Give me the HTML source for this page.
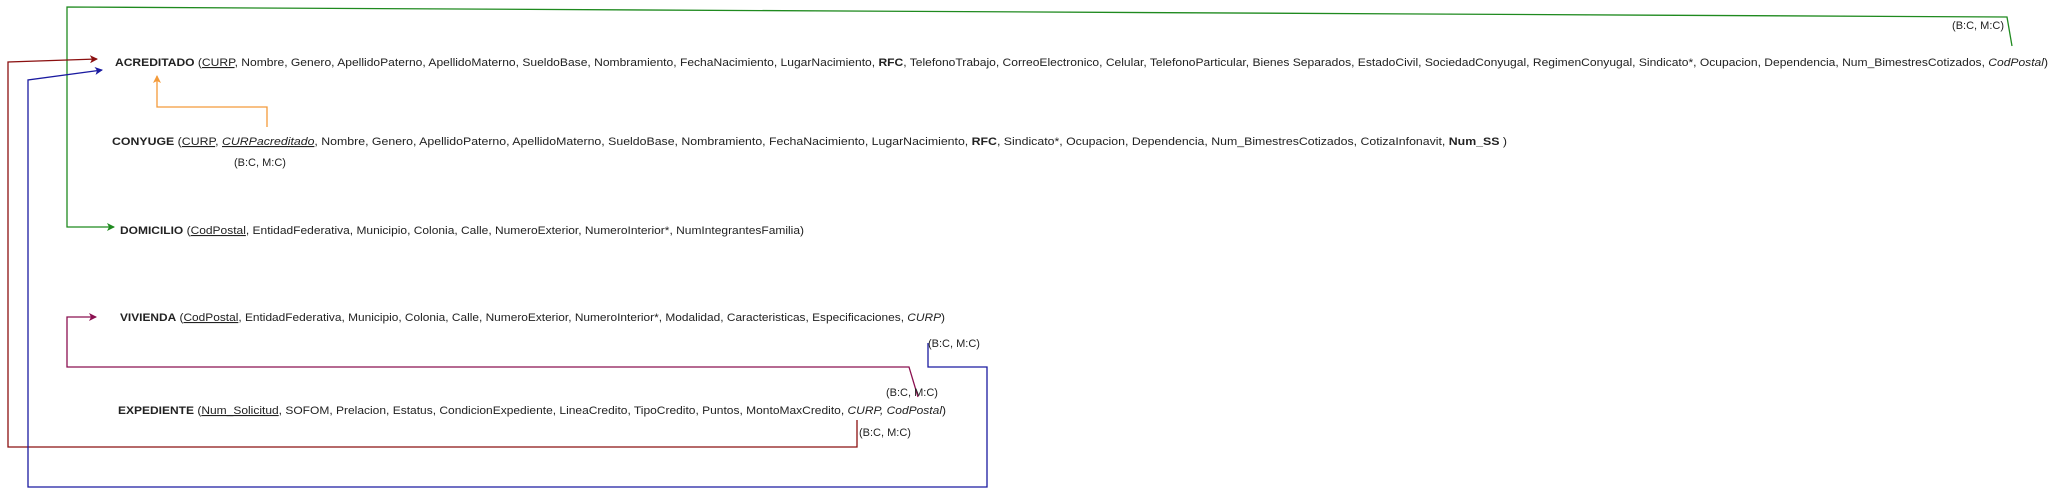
<!DOCTYPE html>
<html><head><meta charset="utf-8"><style>
html,body{margin:0;padding:0;background:#fff;}
svg{display:block;}
text{font-family:"Liberation Sans",Arial,sans-serif;font-size:11px;fill:#222;}
</style></head><body>
<svg width="2054" height="497" viewBox="0 0 2054 497" xmlns="http://www.w3.org/2000/svg">
<defs>
<marker id="ag" markerWidth="8" markerHeight="8" refX="7" refY="4" orient="auto" markerUnits="userSpaceOnUse"><path d="M0,0 L8,4 L0,8 L2,4 z" fill="#1f8a1f"/></marker>
<marker id="ar" markerWidth="8" markerHeight="8" refX="7" refY="4" orient="auto" markerUnits="userSpaceOnUse"><path d="M0,0 L8,4 L0,8 L2,4 z" fill="#8b1010"/></marker>
<marker id="ab" markerWidth="8" markerHeight="8" refX="7" refY="4" orient="auto" markerUnits="userSpaceOnUse"><path d="M0,0 L8,4 L0,8 L2,4 z" fill="#1a1aa0"/></marker>
<marker id="ao" markerWidth="8" markerHeight="8" refX="7" refY="4" orient="auto" markerUnits="userSpaceOnUse"><path d="M0,0 L8,4 L0,8 L2,4 z" fill="#f39a3a"/></marker>
<marker id="ap" markerWidth="8" markerHeight="8" refX="7" refY="4" orient="auto" markerUnits="userSpaceOnUse"><path d="M0,0 L8,4 L0,8 L2,4 z" fill="#8b1050"/></marker>
</defs>
<g fill="none" stroke-width="1.3">
<polyline points="2012,46 2007,17 67,7 67,227 114,227" stroke="#1f8a1f" marker-end="url(#ag)"/>
<polyline points="857,420 857,447 8,447 8,62 97,59" stroke="#8b1010" marker-end="url(#ar)"/>
<polyline points="928,343 928,367 987,367 987,487 28,487 28,80 102,70" stroke="#1a1aa0" marker-end="url(#ab)"/>
<polyline points="267,127 267,107 157,107 157,76" stroke="#f39a3a" marker-end="url(#ao)"/>
<polyline points="918,397 909,367 67,367 67,317 96,317" stroke="#8b1050" marker-end="url(#ap)"/>
</g>
<text x="115" y="66" textLength="1933" lengthAdjust="spacingAndGlyphs"><tspan font-weight="bold">ACREDITADO</tspan> (<tspan text-decoration="underline">CURP</tspan>, Nombre, Genero, ApellidoPaterno, ApellidoMaterno, SueldoBase, Nombramiento, FechaNacimiento, LugarNacimiento, <tspan font-weight="bold">RFC</tspan>, TelefonoTrabajo, CorreoElectronico, Celular, TelefonoParticular, Bienes Separados, EstadoCivil, SociedadConyugal, RegimenConyugal, Sindicato*, Ocupacion, Dependencia, Num_BimestresCotizados, <tspan font-style="italic">CodPostal</tspan>)</text>
<text x="2004" y="29" text-anchor="end">(B:C, M:C)</text>
<text x="112" y="145" textLength="1395" lengthAdjust="spacingAndGlyphs"><tspan font-weight="bold">CONYUGE</tspan> (<tspan text-decoration="underline">CURP</tspan>, <tspan font-style="italic" text-decoration="underline">CURPacreditado</tspan>, Nombre, Genero, ApellidoPaterno, ApellidoMaterno, SueldoBase, Nombramiento, FechaNacimiento, LugarNacimiento, <tspan font-weight="bold">RFC</tspan>, Sindicato*, Ocupacion, Dependencia, Num_BimestresCotizados, CotizaInfonavit, <tspan font-weight="bold">Num_SS</tspan> )</text>
<text x="234" y="166">(B:C, M:C)</text>
<text x="120" y="234" textLength="684" lengthAdjust="spacingAndGlyphs"><tspan font-weight="bold">DOMICILIO</tspan> (<tspan text-decoration="underline">CodPostal</tspan>, EntidadFederativa, Municipio, Colonia, Calle, NumeroExterior, NumeroInterior*, NumIntegrantesFamilia)</text>
<text x="120" y="321" textLength="825" lengthAdjust="spacingAndGlyphs"><tspan font-weight="bold">VIVIENDA</tspan> (<tspan text-decoration="underline">CodPostal</tspan>, EntidadFederativa, Municipio, Colonia, Calle, NumeroExterior, NumeroInterior*, Modalidad, Caracteristicas, Especificaciones, <tspan font-style="italic">CURP</tspan>)</text>
<text x="928" y="347">(B:C, M:C)</text>
<text x="886" y="396">(B:C, M:C)</text>
<text x="118" y="414" textLength="828" lengthAdjust="spacingAndGlyphs"><tspan font-weight="bold">EXPEDIENTE</tspan> (<tspan text-decoration="underline">Num_Solicitud</tspan>, SOFOM, Prelacion, Estatus, CondicionExpediente, LineaCredito, TipoCredito, Puntos, MontoMaxCredito, <tspan font-style="italic">CURP, CodPostal</tspan>)</text>
<text x="859" y="436">(B:C, M:C)</text>
</svg>
</body></html>
